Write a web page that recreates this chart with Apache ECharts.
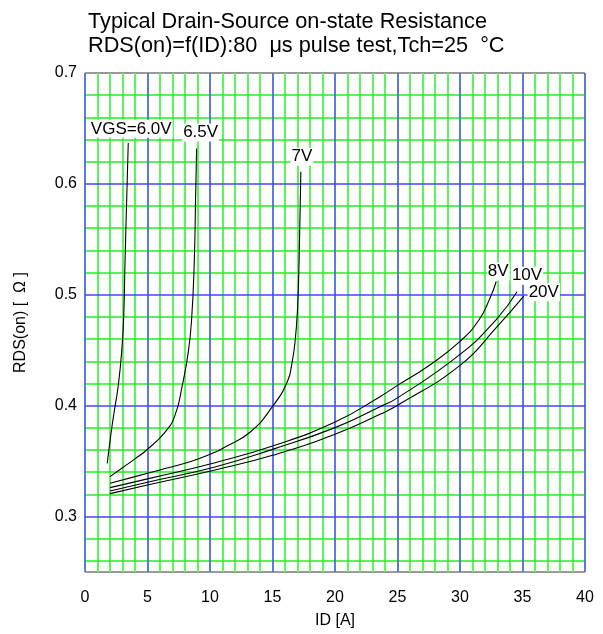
<!DOCTYPE html>
<html>
<head>
<meta charset="utf-8">
<script src="https://cdn.jsdelivr.net/npm/echarts@6/dist/echarts.min.js"></script>
<style>html,body{margin:0;padding:0;background:#fff}#c{width:603px;height:634px}</style>
</head>
<body>
<div id="c"></div>
<script>
// ---- data ----
const seriesNames = ['VGS=6.0V', '6.5V', '7V', '8V', '10V', '20V'];

const id_6V0 = [1.78, 2.13, 2.4, 2.66, 2.93, 3.09, 3.2, 3.38, 3.46];
const r_6V0  = [0.348, 0.379, 0.399, 0.418, 0.448, 0.478, 0.529, 0.604, 0.637];

const id_6V5 = [2.0, 3.0, 4.0, 4.93, 6.39, 7.19, 7.78, 8.26, 8.53, 8.74, 8.85, 8.93];
const r_6V5  = [0.336, 0.344, 0.352, 0.360, 0.376, 0.391, 0.418, 0.448, 0.478, 0.529, 0.589, 0.632];

const id_7V = [2.0, 4.0, 6.0, 8.0, 9.2, 10.4, 11.1, 13.2, 15.05, 16.2, 16.55, 16.8, 17.0, 17.13, 17.27];
const r_7V  = [0.330, 0.336, 0.342, 0.348, 0.3525, 0.358, 0.362, 0.376, 0.400, 0.422, 0.438, 0.457, 0.487, 0.532, 0.611];

const id_8V = [2.0, 5.0, 10.4, 15.0, 20.0, 23.6, 25.0, 27.5, 30.0, 31.5, 32.4, 32.9];
const r_8V  = [0.3261, 0.334, 0.3486, 0.3636, 0.3852, 0.4081, 0.4183, 0.436, 0.458, 0.477, 0.497, 0.512];

const id_10V = [2.0, 5.0, 10.4, 15.0, 20.0, 23.6, 25.0, 30.0, 32.9, 34.56];
const r_10V  = [0.323, 0.331, 0.3447, 0.3606, 0.3802, 0.399, 0.407, 0.4462, 0.4777, 0.5027];

const id_20V = [2.0, 5.0, 10.4, 15.0, 20.0, 23.6, 25.0, 30.0, 32.9, 35.1];
const r_20V  = [0.3207, 0.3285, 0.342, 0.3552, 0.3742, 0.3922, 0.4003, 0.4363, 0.4703, 0.4987];

const curveIDs = [id_6V0, id_6V5, id_7V, id_8V, id_10V, id_20V];
const curveRs  = [r_6V0, r_6V5, r_7V, r_8V, r_10V, r_20V];

const xTickValues = [0, 5, 10, 15, 20, 25, 30, 35, 40];
const yTickValues = [0.3, 0.4, 0.5, 0.6, 0.7];

const titleText = 'Typical Drain-Source on-state Resistance\nRDS(on)=f(ID):80  μs pulse test,Tch=25  °C';
const xName = 'ID [A]';
const yName = 'RDS(on) [  Ω ]';

// ---- styling ----
const FONT = '"Liberation Sans", Arial, sans-serif';
const GREEN_V = '#5cf55c';
const GREEN_H = '#22ee22';
const BLUE_V = '#5c5cff';
const BLUE_H = '#4444ff';
const labelOffsets = [[3, -14], [4, -16], [1, -15], [2, -10], [10, -16], [20, -4]];

// horizontal grid lines (minor every 0.02 Ω, major every 0.1 Ω)
const yMinorGrid = [], yMajorGrid = [];
for (let k = 13; k < 35; k++) { const v = +(k * 0.02).toFixed(2); (k % 5 === 0 ? yMajorGrid : yMinorGrid).push(v); }

function hGridSeries(ys, color, z) {
  return {
    type: 'line', data: [[0, 0.25]], showSymbol: false, lineStyle: { width: 0 },
    silent: true, animation: false, xAxisIndex: 1,
    markLine: {
      z: z, silent: true, animation: false, symbol: ['none', 'none'],
      label: { show: false }, emphasis: { disabled: true },
      lineStyle: { color: color, width: 1.6, type: 'solid' },
      data: ys.map(v => ({ yAxis: v }))
    }
  };
}

const curveSeries = seriesNames.map((name, i) => {
  const xs = curveIDs[i], ys = curveRs[i];
  const n = xs.length;
  return {
    name: name, type: 'line', z: 3, xAxisIndex: 1,
    data: xs.map((x, j) => [x, ys[j]]),
    smooth: 0.5, showSymbol: false, animation: false,
    lineStyle: { color: '#000', width: 1.1 },
    markPoint: {
      z: 4, symbol: 'circle', symbolSize: 0, animation: false, silent: true,
      data: [{ coord: [xs[n - 1], ys[n - 1]], value: name }],
      label: {
        show: true, position: 'inside', offset: labelOffsets[i], formatter: name,
        color: '#000', fontSize: 17, fontFamily: FONT,
        backgroundColor: '#fff', padding: [1, 1, 0, 1]
      }
    }
  };
});

const chart = echarts.init(document.getElementById('c'), null, { renderer: 'canvas' });
chart.setOption({
  backgroundColor: '#fff',
  animation: false,
  title: {
    text: titleText, left: 88, top: 10, padding: 0,
    textStyle: { fontSize: 21.7, fontWeight: 'normal', color: '#000', fontFamily: FONT, lineHeight: 24 }
  },
  grid: { left: 85, right: 18, top: 73, bottom: 61, show: true, borderColor: '#333', borderWidth: 1, backgroundColor: '#fff' },
  xAxis: [{
    // minor vertical grid, every 1 A
    type: 'value', min: 0, max: 40, interval: 1, position: 'bottom', z: 1,
    axisLine: { show: false }, axisTick: { show: false }, axisLabel: { show: false },
    splitLine: { show: true, lineStyle: { color: GREEN_V, width: 2 } }
  }, {
    // labelled axis with major vertical grid, every 5 A
    type: 'value', min: 0, max: 40, interval: 5, position: 'bottom', offset: 0, z: 2,
    name: xName, nameLocation: 'middle', nameGap: 41,
    nameTextStyle: { fontSize: 16, color: '#000', fontFamily: FONT },
    axisLine: { show: false }, axisTick: { show: false },
    splitLine: { show: true, lineStyle: { color: BLUE_V, width: 1.6 } },
    axisLabel: {
      fontSize: 16, color: '#000', fontFamily: FONT, margin: 18,
      formatter: v => (xTickValues.indexOf(v) >= 0 ? String(v) : '')
    }
  }],
  yAxis: {
    type: 'value', min: 0.25, max: 0.7, interval: 0.05,
    name: yName, nameLocation: 'middle', nameGap: 56, nameRotate: 90,
    nameTextStyle: { fontSize: 16, color: '#000', fontFamily: FONT },
    axisLine: { show: false }, axisTick: { show: false }, splitLine: { show: false },
    axisLabel: {
      fontSize: 16, color: '#000', fontFamily: FONT, margin: 8,
      formatter: v => { const m = yTickValues.find(t => Math.abs(t - v) < 1e-6); return m !== undefined ? m.toFixed(1) : ''; }
    }
  },
  series: [
    hGridSeries(yMinorGrid, GREEN_H, 1),
    hGridSeries(yMajorGrid, BLUE_H, 2)
  ].concat(curveSeries)
});
</script>
</body>
</html>
